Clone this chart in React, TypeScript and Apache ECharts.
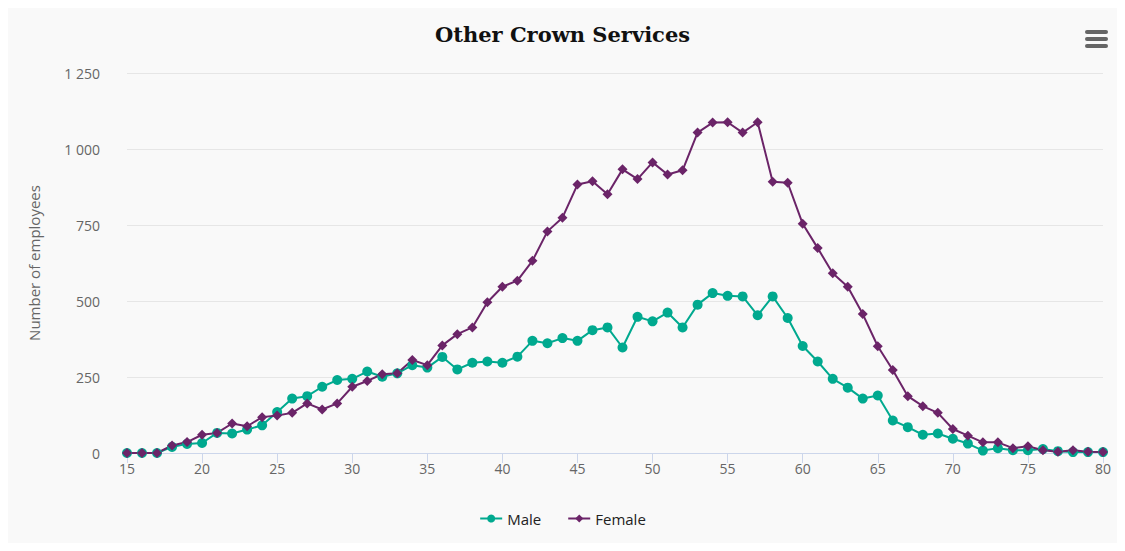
import React, { useEffect, useRef } from "react";
import * as echarts from "echarts";

const ages = [15,16,17,18,19,20,21,22,23,24,25,26,27,28,29,30,31,32,33,34,35,36,37,38,39,40,41,42,43,44,45,46,47,48,49,50,51,52,53,54,55,56,57,58,59,60,61,62,63,64,65,66,67,68,69,70,71,72,73,74,75,76,77,78,79,80];
const male = [0,0,0,20,30,33,66,64,77,91,135,179,187,218,240,244,268,251,262,289,281,316,275,297,301,297,317,369,361,378,369,404,413,347,448,433,462,413,488,526,517,515,453,515,444,352,301,244,215,179,189,107,85,60,64,47,31,8,16,9,9,13,6,3,3,3];
const female = [0,0,0,25,36,60,66,97,88,118,123,132,163,143,163,218,237,259,262,306,289,354,391,413,496,547,567,632,729,774,883,894,851,933,901,956,916,930,1054,1087,1088,1054,1088,892,889,754,674,591,547,457,351,273,187,154,132,79,57,35,35,16,22,9,4,9,4,3];
const seriesNames = ["Male", "Female"];
const colors = ["#00a98f", "#6b2468"];
const titleText = "Other Crown Services";
const yAxisTitle = "Number of employees";

const fmt = (v: number) => String(v).replace(/\B(?=(\d{3})+(?!\d))/g, " ");

export default function App() {
  const ref = useRef<HTMLDivElement>(null);
  useEffect(() => {
    if (!ref.current) return;
    const chart = echarts.init(ref.current, undefined, { renderer: "svg" });
    const labelFont = { fontFamily: "'Open Sans', 'DejaVu Sans', sans-serif", fontSize: 14, color: "#666666" };
    chart.setOption({
      animation: false,
      backgroundColor: "#f9f9f9",
      color: colors,
      title: {
        text: titleText,
        left: "center",
        top: 11,
        textStyle: { fontFamily: "'DejaVu Serif', 'Liberation Serif', serif", fontSize: 21, fontWeight: 600, color: "#111111" },
      },
      grid: { left: 119, right: 14, top: 65, bottom: 90, containLabel: false },
      legend: {
        bottom: 12,
        left: "center",
        itemWidth: 22,
        itemHeight: 10,
        itemGap: 26,
        textStyle: { fontFamily: "'Open Sans', 'DejaVu Sans', sans-serif", fontSize: 15, color: "#222222" },
        data: seriesNames,
      },
      xAxis: {
        type: "value",
        min: 15,
        max: 80,
        interval: 5,
        axisLine: { show: true, lineStyle: { color: "#ccd6eb", width: 1 } },
        axisTick: { show: true, length: 10, lineStyle: { color: "#ccd6eb" } },
        axisLabel: { ...labelFont, margin: 8 },
        splitLine: { show: false },
      },
      yAxis: {
        type: "value",
        min: 0,
        max: 1250,
        interval: 250,
        name: yAxisTitle,
        nameLocation: "middle",
        nameGap: 86,
        nameTextStyle: { fontFamily: "'Open Sans', 'DejaVu Sans', sans-serif", fontSize: 15, color: "#666666" },
        axisLine: { show: false },
        axisTick: { show: false },
        axisLabel: { ...labelFont, margin: 27, formatter: (v: number) => fmt(v) },
        splitLine: { lineStyle: { color: "#e6e6e6", width: 1 } },
      },
      graphic: [
        { type: "rect", left: 1077, top: 22, shape: { width: 23, height: 4, r: 2 }, style: { fill: "#666666" } },
        { type: "rect", left: 1077, top: 29, shape: { width: 23, height: 4, r: 2 }, style: { fill: "#666666" } },
        { type: "rect", left: 1077, top: 36, shape: { width: 23, height: 4, r: 2 }, style: { fill: "#666666" } },
      ],
      series: [
        {
          name: seriesNames[0],
          type: "line",
          data: ages.map((a, i) => [a, male[i]]),
          symbol: "circle",
          symbolSize: 10,
          lineStyle: { width: 2 },
          itemStyle: { color: colors[0] },
        },
        {
          name: seriesNames[1],
          type: "line",
          data: ages.map((a, i) => [a, female[i]]),
          symbol: "diamond",
          symbolSize: 10,
          lineStyle: { width: 2 },
          itemStyle: { color: colors[1] },
        },
      ],
    });
    return () => chart.dispose();
  }, []);
  return <div ref={ref} style={{ width: 1109, height: 535 }} />;
}
